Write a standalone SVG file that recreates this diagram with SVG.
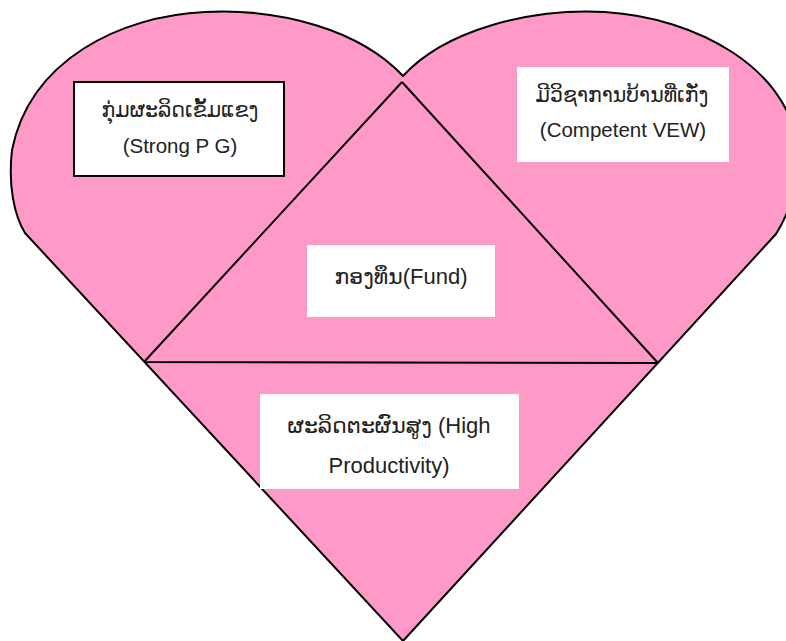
<svg xmlns="http://www.w3.org/2000/svg" width="786" height="641" viewBox="0 0 786 641">
<style>
.shape{fill:#ff99c8;stroke:#000;stroke-width:2;stroke-linejoin:round}
.line{fill:none;stroke:#000;stroke-width:2}
.box{fill:#fff}
.bordered{fill:#fff;stroke:#000;stroke-width:2}
text{font-family:"Liberation Sans","DejaVu Sans",sans-serif;fill:#222;text-anchor:middle}
.s20{font-size:20.5px}
.s22{font-size:22px}
</style>
<rect width="786" height="641" fill="#fff"/>
<g id="heart">
<path class="shape" d="M403,76 C360,30 280,8 205,12 C120,16 30,60 12,150 C8,185 14,215 25,233 L403,641 L776,234 C790,212 800,180 796,140 C785,70 700,18 605,12 C530,8 445,30 403,76 Z"/>
</g>
<g id="connectors">
<path class="line" d="M402,82 L144,362 M402,82 L658,363 M144,362 L658,363"/>
</g>
<g id="node-strong-pg">
<rect class="bordered" x="74" y="82" width="210" height="94"/>
<text class="s20" x="180" y="117">ກຸ່ມຜະລິດເຂັ້ມແຂງ</text>
<text class="s20" x="180" y="153">(Strong P G)</text>
</g>
<g id="node-competent-vew">
<rect class="box" x="517" y="67" width="212" height="95"/>
<text class="s20" x="622" y="102">ມີວິຊາການບ້ານທີ່ເກັ່ງ</text>
<text class="s20" x="623" y="137">(Competent VEW)</text>
</g>
<g id="node-fund">
<rect class="box" x="307" y="245" width="188" height="72"/>
<text class="s22" x="401" y="284">ກອງທຶນ(Fund)</text>
</g>
<g id="node-high-productivity">
<rect class="box" x="260" y="394" width="259" height="95"/>
<text class="s22" x="389" y="433">ຜະລິດຕະຜົນສູງ (High</text>
<text class="s22" x="389" y="473">Productivity)</text>
</g>
</svg>
